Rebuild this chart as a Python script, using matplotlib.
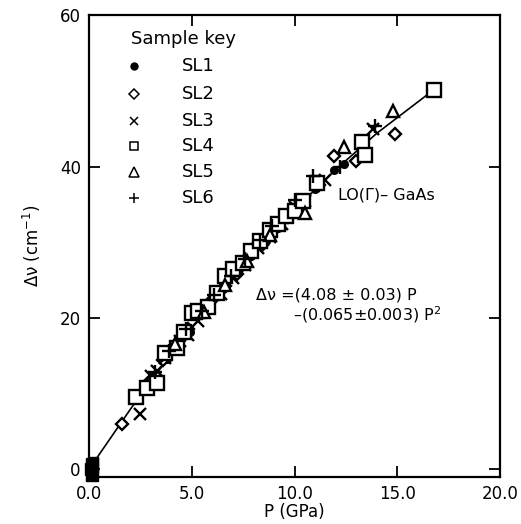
import matplotlib
matplotlib.use("Agg")
import matplotlib.pyplot as plt

# fitted curve
fit_p = [0.3, 2.0, 4.0, 6.0, 8.0, 10.0, 12.0, 14.0, 16.7]
fit_dv = [1.2, 7.9, 15.3, 22.1, 28.5, 34.3, 39.6, 44.4, 50.0]

# sample points (P in GPa, shift in cm^-1)
sl1_p = [0.0, 0.1, 0.1, 3.1, 3.8, 4.5, 4.9, 5.4, 5.9, 6.5, 7.3, 7.9, 8.6, 9.2,
         9.8, 10.4, 11.0, 11.9, 12.4]
sl1_dv = [0.0, 0.8, -0.6, 12.1, 14.6, 17.3, 18.2, 20.4, 21.9, 23.8, 26.4, 28.2,
          30.2, 31.9, 33.8, 35.6, 37.1, 39.6, 40.4]

sl2_p = [0.0, 1.6, 3.0, 3.6, 4.3, 4.8, 5.5, 6.0, 6.6, 7.2, 7.8, 8.4, 9.0, 9.7,
         10.3, 11.2, 11.9, 13.0, 14.9]
sl2_dv = [0.0, 6.0, 11.8, 14.4, 16.4, 18.6, 20.6, 22.4, 24.2, 25.8, 28.2, 29.6,
          31.6, 33.3, 35.4, 37.6, 41.4, 40.8, 44.3]

sl3_p = [0.0, 2.5, 3.0, 3.3, 3.7, 4.4, 4.8, 5.3, 5.8, 6.4, 7.0, 7.6, 8.2, 8.8,
         9.4, 10.0, 10.5, 11.5, 13.8]
sl3_dv = [0.0, 7.3, 12.3, 13.0, 14.7, 17.0, 17.8, 19.6, 21.3, 23.1, 25.3, 27.0,
          29.2, 30.7, 32.4, 34.6, 35.5, 38.2, 44.9]

sl4_p = [0.0, 0.1, 2.3, 2.8, 3.3, 3.7, 4.3, 4.6, 5.0, 5.3, 5.8, 6.2, 6.6, 7.0,
         7.5, 7.9, 8.3, 8.8, 9.2, 9.6, 10.0, 10.4, 11.1, 13.3, 13.4, 16.8]
sl4_dv = [0.0, 0.6, 9.6, 10.8, 11.4, 15.3, 16.0, 18.2, 20.6, 20.9, 21.4, 23.3,
          25.6, 26.4, 27.2, 28.9, 30.1, 31.6, 32.4, 33.5, 34.1, 35.4, 37.8,
          43.3, 41.5, 50.1]

sl5_p = [0.0, 4.2, 5.6, 6.6, 7.7, 8.8, 10.5, 12.4, 14.8]
sl5_dv = [0.0, 16.5, 20.8, 24.3, 27.5, 31.0, 33.9, 42.6, 47.3]

sl6_p = [0.0, 3.2, 3.9, 4.7, 5.5, 6.1, 6.9, 7.6, 8.3, 8.9, 10.0, 10.9, 12.2, 13.9]
sl6_dv = [0.0, 12.9, 15.6, 18.5, 20.9, 23.0, 25.6, 27.8, 30.3, 32.1, 35.6,
          38.8, 40.0, 45.4]

legend_labels = ["SL1", "SL2", "SL3", "SL4", "SL5", "SL6"]

plt.rcParams["font.family"] = ["DejaVu Sans"]

fig = plt.figure(figsize=(5.21, 5.24), dpi=100)
ax = fig.add_axes([0.171, 0.09, 0.789, 0.881])

ax.plot(fit_p, fit_dv, color="black", lw=1.2, zorder=1)

series = [
    (sl1_p, sl1_dv, dict(marker="o", ms=5.5, mfc="black", mec="black", mew=1.0)),
    (sl2_p, sl2_dv, dict(marker="D", ms=6.5, mfc="white", mec="black", mew=1.7)),
    (sl3_p, sl3_dv, dict(marker="x", ms=9, mec="black", mew=1.7)),
    (sl4_p, sl4_dv, dict(marker="s", ms=9.5, mfc="white", mec="black", mew=1.7)),
    (sl5_p, sl5_dv, dict(marker="^", ms=9, mfc="white", mec="black", mew=1.7)),
    (sl6_p, sl6_dv, dict(marker="+", ms=10, mec="black", mew=1.7)),
]
for p, dv, style in series:
    ax.plot(p, dv, ls="none", zorder=2, **style)

# black pile-up of markers at zero pressure
ax.plot([0.1, 0.15, 0.15], [0.0, 0.7, -0.7], ls="none", marker="s", ms=9,
        mfc="black", mec="black", zorder=3, clip_on=False)

ax.set_xlim(0, 20)
ax.set_ylim(-1, 60)
ax.set_xticks([0, 5, 10, 15, 20])
ax.set_xticklabels(["0.0", "5.0", "10.0", "15.0", "20.0"])
ax.set_yticks([0, 20, 40, 60])
ax.tick_params(direction="in", length=8, width=1.3, labelsize=12,
               top=True, right=True, pad=6)
for s in ax.spines.values():
    s.set_linewidth(1.6)

ax.set_xlabel("P (GPa)", fontsize=12, labelpad=0)
ax.set_ylabel("Δν (cm$^{-1}$)", fontsize=12, labelpad=12)

# sample key
ax.text(0.102, 0.948, "Sample key", transform=ax.transAxes, fontsize=13,
        ha="left", va="center")
leg_styles = [
    dict(marker="o", ms=5, mfc="black", mec="black"),
    dict(marker="D", ms=5, mfc="white", mec="black", mew=1.1),
    dict(marker="x", ms=5.5, mec="black", mew=1.1),
    dict(marker="s", ms=6, mfc="white", mec="black", mew=1.1),
    dict(marker="^", ms=6.5, mfc="white", mec="black", mew=1.1),
    dict(marker="+", ms=7, mec="black", mew=1.1),
]
row_y = [0.891, 0.829, 0.771, 0.716, 0.660, 0.604]
for label, style, y in zip(legend_labels, leg_styles, row_y):
    ax.plot([0.109], [y], transform=ax.transAxes, ls="none", clip_on=False, **style)
    ax.text(0.265, y, label, transform=ax.transAxes, fontsize=13,
            ha="center", va="center")

ax.text(12.1, 36.3, "LO(Γ)– GaAs", fontsize=11.5, ha="left", va="center")
ax.text(8.1, 23.0, "Δν =(4.08 ± 0.03) P", fontsize=11.5, ha="left", va="center")
ax.text(9.9, 20.4, "–(0.065±0.003) P$^2$", fontsize=11.5, ha="left", va="center")

fig.savefig("out.png", dpi=100)
